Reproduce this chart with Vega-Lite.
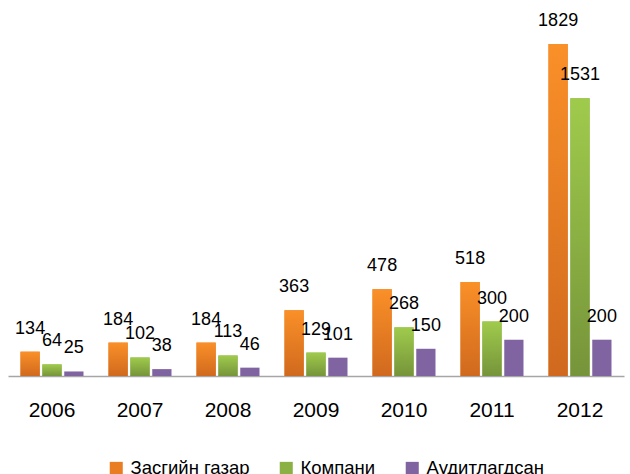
{
  "$schema": "https://vega.github.io/schema/vega-lite/v6.json",
  "width": 616,
  "height": 376,
  "padding": {"left": 8, "top": 0, "right": 6, "bottom": 0},
  "background": "white",
  "config": {"view": {"stroke": null}, "axis": {"grid": false}},
  "data": {"values": [
    {"year": "2006", "series": "Засгийн газар", "value": 134},
    {"year": "2006", "series": "Компани", "value": 64},
    {"year": "2006", "series": "Аудитлагдсан", "value": 25},
    {"year": "2007", "series": "Засгийн газар", "value": 184},
    {"year": "2007", "series": "Компани", "value": 102},
    {"year": "2007", "series": "Аудитлагдсан", "value": 38},
    {"year": "2008", "series": "Засгийн газар", "value": 184},
    {"year": "2008", "series": "Компани", "value": 113},
    {"year": "2008", "series": "Аудитлагдсан", "value": 46},
    {"year": "2009", "series": "Засгийн газар", "value": 363},
    {"year": "2009", "series": "Компани", "value": 129},
    {"year": "2009", "series": "Аудитлагдсан", "value": 101},
    {"year": "2010", "series": "Засгийн газар", "value": 478},
    {"year": "2010", "series": "Компани", "value": 268},
    {"year": "2010", "series": "Аудитлагдсан", "value": 150},
    {"year": "2011", "series": "Засгийн газар", "value": 518},
    {"year": "2011", "series": "Компани", "value": 300},
    {"year": "2011", "series": "Аудитлагдсан", "value": 200},
    {"year": "2012", "series": "Засгийн газар", "value": 1829},
    {"year": "2012", "series": "Компани", "value": 1531},
    {"year": "2012", "series": "Аудитлагдсан", "value": 200}
  ]},
  "encoding": {
    "x": {"field": "year", "type": "nominal",
      "scale": {"paddingInner": 0.284, "paddingOuter": 0.142},
      "axis": {"title": null, "labelAngle": 0, "ticks": false, "domainColor": "#A6A6A6", "domainWidth": 1.5,
        "labelFont": "Liberation Sans", "labelFontSize": 21, "labelColor": "#000000", "labelPadding": 23}},
    "xOffset": {"field": "series", "type": "nominal", "sort": ["Засгийн газар", "Компани", "Аудитлагдсан"],
      "scale": {"domain": ["Засгийн газар", "Компани", "Аудитлагдсан"], "paddingInner": 0.12, "paddingOuter": 0}},
    "y": {"field": "value", "type": "quantitative", "scale": {"domain": [0, 2072], "nice": false}, "axis": null}
  },
  "layer": [
    {"mark": {"type": "bar"},
     "encoding": {"color": {"field": "series", "type": "nominal",
       "sort": ["Засгийн газар", "Компани", "Аудитлагдсан"],
       "scale": {"domain": ["Засгийн газар", "Компани", "Аудитлагдсан"], "range": ["#E97D22", "#8BB044", "#8064A2"]},
       "legend": {"title": null, "orient": "none", "legendX": 99, "legendY": 459, "direction": "horizontal",
         "symbolType": "square", "symbolSize": 170, "symbolStrokeWidth": 0, "symbolOpacity": 1, "labelFont": "Liberation Sans",
         "labelFontSize": 18.5, "labelColor": "#000000", "columnPadding": 27, "labelOffset": 5}}}},
    {"transform": [{"filter": "datum.series === 'Засгийн газар'"}],
     "mark": {"type": "bar", "fill": {"gradient": "linear", "x1": 0, "y1": 0, "x2": 0, "y2": 1, "stops": [{"offset": 0, "color": "#FA9028"}, {"offset": 1, "color": "#D0691E"}]}}},
    {"transform": [{"filter": "datum.series === 'Компани'"}],
     "mark": {"type": "bar", "fill": {"gradient": "linear", "x1": 0, "y1": 0, "x2": 0, "y2": 1, "stops": [{"offset": 0, "color": "#9FCB4C"}, {"offset": 1, "color": "#76943A"}]}}},
    {"mark": {"type": "text", "baseline": "bottom", "dy": -14, "font": "Liberation Sans", "fontSize": 18, "color": "#000000"},
     "encoding": {"text": {"field": "value", "type": "quantitative"}}}
  ]
}
